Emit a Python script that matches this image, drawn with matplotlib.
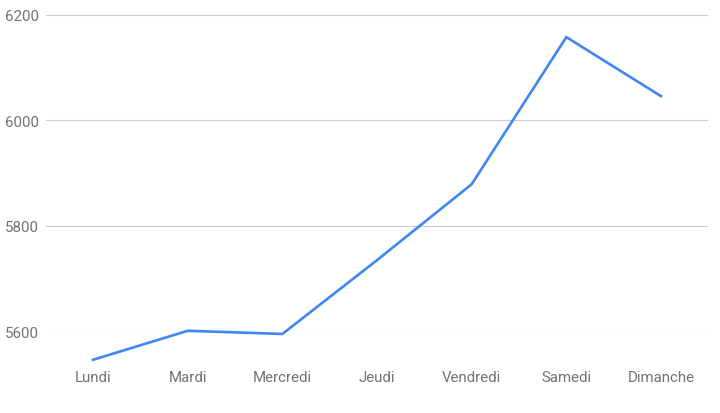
import matplotlib
matplotlib.use('Agg')
from matplotlib import pyplot as plt

# values
jours = ['Lundi', 'Mardi', 'Mercredi', 'Jeudi', 'Vendredi', 'Samedi', 'Dimanche']
valeurs = [5546, 5601, 5595, 5735, 5879, 6158, 6046]
y_ticks = [5600, 5800, 6000, 6200]

plt.rcParams['font.family'] = ['Roboto', 'DejaVu Sans']

fig = plt.figure(figsize=(7.2, 4.14), dpi=100)
ax = fig.add_axes([0.0635, 0.1973, 0.9203, 0.7641])

x = list(range(len(jours)))
ax.plot(x, valeurs, color='#4285F4', linewidth=1.9, clip_on=False,
        solid_joinstyle='miter', zorder=3)

ax.set_xlim(-0.5, len(jours) - 0.5)
ax.set_ylim(5600, 6200)
ax.set_yticks(y_ticks)
ax.set_yticklabels([str(v) for v in y_ticks])
ax.set_xticks(x)
ax.set_xticklabels(jours)

ax.grid(axis='y', color='#cccccc', linewidth=0.8)
ax.set_axisbelow(True)
for s in ax.spines.values():
    s.set_visible(False)

ax.tick_params(axis='y', length=0, pad=5, labelsize=10.8, labelcolor='#737373')
ax.tick_params(axis='x', length=0, pad=27.5, labelsize=10.8, labelcolor='#737373')

plt.savefig('out.png', dpi=100)
